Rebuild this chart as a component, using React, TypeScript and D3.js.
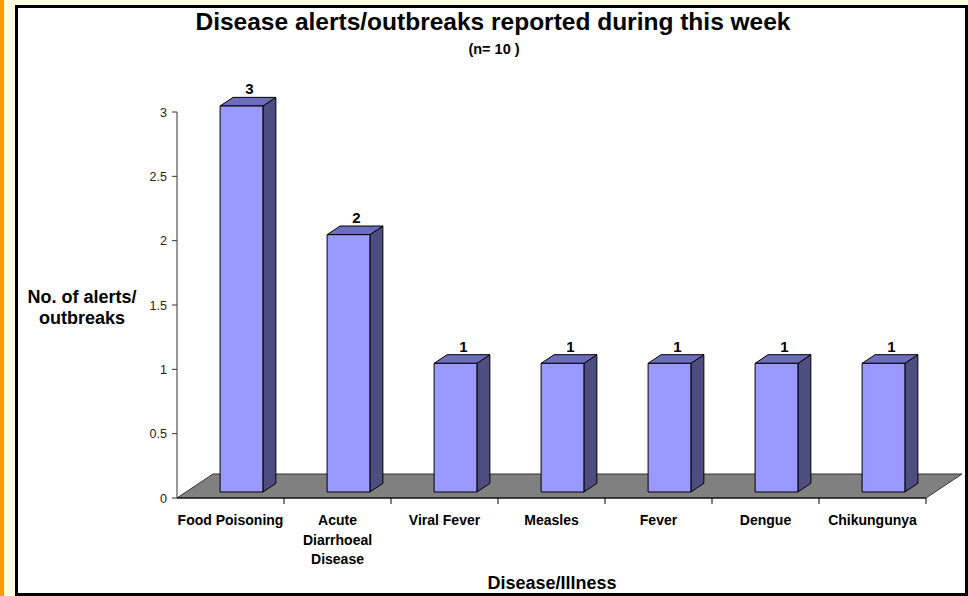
import React from 'react';
import * as d3 from 'd3';

const categories = ['Food Poisoning', 'Acute Diarrhoeal Disease', 'Viral Fever', 'Measles', 'Fever', 'Dengue', 'Chikungunya'];
const categoryLines = [['Food Poisoning'], ['Acute', 'Diarrhoeal', 'Disease'], ['Viral Fever'], ['Measles'], ['Fever'], ['Dengue'], ['Chikungunya']];
const alerts = [3, 2, 1, 1, 1, 1, 1];
const yTicks = [0, 0.5, 1, 1.5, 2, 2.5, 3];
const yTickLabels = ['0', '0.5', '1', '1.5', '2', '2.5', '3'];

const W = 968;
const H = 596;
const FONT = "'Liberation Sans', Arial, sans-serif";

export default function App() {
  const x = d3.scaleBand<string>().domain(categories).range([177, 926]).paddingInner(0).paddingOuter(0);
  const y = d3.scaleLinear().domain([0, 3]).range([498, 112]);

  // depth vector of the floor (perspective offset)
  const dx = 36;
  const dy = -24;
  const z0 = 0.25;
  const z1 = 0.61;
  const barW = x.bandwidth() * 0.4;

  const x0 = x.range()[0];
  const x1 = x.range()[1];
  const yBase = y(0);
  const floor = `M${x0},${yBase} L${x0 + dx},${yBase + dy} L${x1 + dx},${yBase + dy} L${x1},${yBase} Z`;

  return (
    <svg width={W} height={H} style={{ position: 'absolute', left: 0, top: 0 }} fontFamily={FONT}>
      <rect x={0} y={0} width={W} height={H} fill="#ffffe0" />
      <rect x={0} y={0} width={4} height={H} fill="#ff9900" />
      <rect x={16.5} y={6.5} width={950} height={588} fill="#ffffff" stroke="#000" strokeWidth={3} />

      <text x={493} y={30} textAnchor="middle" fontSize={24.5} fontWeight="bold" fill="#000">
        Disease alerts/outbreaks reported during this week
      </text>
      <text x={494} y={54} textAnchor="middle" fontSize={14.5} fontWeight="bold" fill="#000">
        (n= 10 )
      </text>

      {/* floor */}
      <path d={floor} fill="#808080" stroke="#333" strokeWidth={1} />

      {/* y axis */}
      <line x1={x0} x2={x0} y1={y(3)} y2={yBase} stroke="#333" strokeWidth={1} />
      {yTicks.map((t, i) => (
        <g key={t}>
          <line x1={x0 - 5} x2={x0} y1={y(t)} y2={y(t)} stroke="#333" />
          <text x={x0 - 10} y={y(t) + 4.5} textAnchor="end" fontSize={12.5} fill="#222">
            {yTickLabels[i]}
          </text>
        </g>
      ))}

      {/* x axis */}
      <line x1={x0} x2={x1} y1={yBase} y2={yBase} stroke="#000" strokeWidth={1} />
      {categories.map((c) => (
        <line key={c} x1={(x(c) ?? 0) + x.bandwidth()} x2={(x(c) ?? 0) + x.bandwidth()} y1={yBase} y2={yBase + 6} stroke="#000" />
      ))}

      {/* bars */}
      {categories.map((c, i) => {
        const bx = (x(c) ?? 0) + (x.bandwidth() - barW) / 2 + dx * z0 + 2;
        const by0 = yBase + dy * z0;
        const by1 = y(alerts[i]) + dy * z0;
        const ox = dx * (z1 - z0);
        const oy = dy * (z1 - z0);
        const front = `M${bx},${by0} L${bx},${by1} L${bx + barW},${by1} L${bx + barW},${by0} Z`;
        const side = `M${bx + barW},${by0} L${bx + barW},${by1} L${bx + barW + ox},${by1 + oy} L${bx + barW + ox},${by0 + oy} Z`;
        const top = `M${bx},${by1} L${bx + ox},${by1 + oy} L${bx + barW + ox},${by1 + oy} L${bx + barW},${by1} Z`;
        return (
          <g key={c}>
            <path d={side} fill="#4d4d80" stroke="#000" strokeWidth={1} />
            <path d={top} fill="#6d6dbd" stroke="#000" strokeWidth={1} />
            <path d={front} fill="#9999ff" stroke="#000" strokeWidth={1} />
            <text x={bx + barW / 2 + 8} y={by1 + oy - 3} textAnchor="middle" fontSize={15} fontWeight="bold" fill="#000">
              {alerts[i]}
            </text>
          </g>
        );
      })}

      {/* category labels */}
      {categories.map((c, i) => (
        <text key={c} textAnchor="middle" fontSize={14} fontWeight="bold" fill="#000">
          {categoryLines[i].map((ln, j) => (
            <tspan key={j} x={(x(c) ?? 0) + x.bandwidth() / 2} y={525 + j * 19.5}>
              {ln}
            </tspan>
          ))}
        </text>
      ))}

      <text textAnchor="middle" fontSize={18} fontWeight="bold" fill="#000">
        <tspan x={82} y={303}>No. of alerts/</tspan>
        <tspan x={82} y={324}>outbreaks</tspan>
      </text>
      <text x={552} y={589} textAnchor="middle" fontSize={18} fontWeight="bold" fill="#000">
        Disease/Illness
      </text>
    </svg>
  );
}
